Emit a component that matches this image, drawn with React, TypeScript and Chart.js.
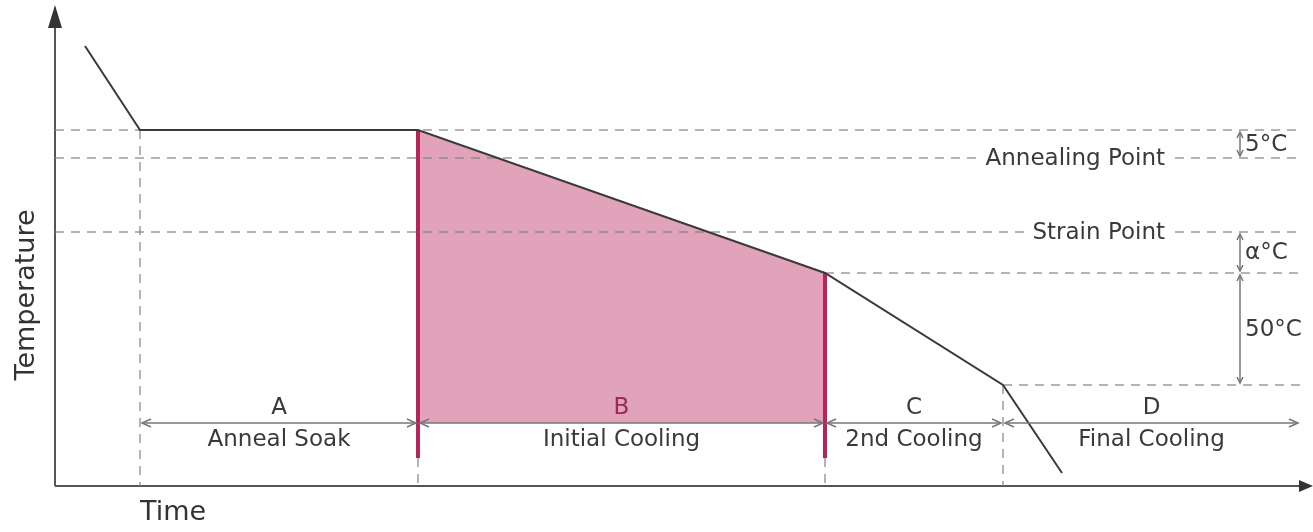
import React, { useEffect, useRef } from "react";
import { Chart, registerables } from "chart.js";

Chart.register(...registerables);

// ---- data (arbitrary time / temperature units) ----
const curveTime = [3.0, 8.5, 36.3, 77.0, 94.8, 100.7];
const curveTemp = [44.0, 35.6, 35.6, 21.3, 10.1, 1.3];

const stageBreaks = [8.5, 36.3, 77.0, 94.8, 124.5];
const stageLetters = ["A", "B", "C", "D"];
const stageNames = ["Anneal Soak", "Initial Cooling", "2nd Cooling", "Final Cooling"];

const levelTemps = [35.6, 32.8, 25.4, 21.3, 10.1];
const levelStarts = [0, 0, 0, 77.0, 94.8];
const levelEnd = 124.5;
const levelNames = ["", "Annealing Point", "Strain Point", "", ""];
const levelLabelEnd = 111.0;

const gapFrom = [35.6, 25.4, 21.3];
const gapTo = [32.8, 21.3, 10.1];
const gapLabels = ["5°C", "α°C", "50°C"];
const gapTime = 118.5;

const dimTemp = 6.3;
const markerBottom = 2.8;
const markerTimes = [36.3, 77.0];
const markerTops = [35.6, 21.3];
const guideTimes = [8.5, 94.8];
const guideTops = [35.6, 10.1];

const FONT = "'DejaVu Sans', 'Open Sans', sans-serif";
const TEXT = "#3a3a3a";
const DASH = "rgba(130,130,130,0.6)";
const PINK = "#b8235a";

function chevron(ctx: CanvasRenderingContext2D, x: number, y: number, dx: number, dy: number, len = 9, half = 4) {
  const px = -dy, py = dx;
  ctx.beginPath();
  ctx.moveTo(x - dx * len + px * half, y - dy * len + py * half);
  ctx.lineTo(x, y);
  ctx.lineTo(x - dx * len - px * half, y - dy * len - py * half);
  ctx.stroke();
}

const annotate = {
  id: "annotate",
  beforeDatasetsDraw(chart: any) {
    const { ctx, chartArea: a } = chart;
    ctx.save();
    ctx.strokeStyle = "#555";
    ctx.lineWidth = 2;
    ctx.beginPath();
    ctx.moveTo(a.left, a.bottom);
    ctx.lineTo(a.left, a.top + 18);
    ctx.stroke();
    ctx.fillStyle = "#333";
    ctx.beginPath();
    ctx.moveTo(a.left, a.top);
    ctx.lineTo(a.left - 7, a.top + 23);
    ctx.lineTo(a.left + 7, a.top + 23);
    ctx.closePath();
    ctx.fill();
    ctx.beginPath();
    ctx.moveTo(a.left, a.bottom);
    ctx.lineTo(a.right - 10, a.bottom);
    ctx.stroke();
    ctx.beginPath();
    ctx.moveTo(a.right, a.bottom);
    ctx.lineTo(a.right - 14, a.bottom - 6);
    ctx.lineTo(a.right - 14, a.bottom + 6);
    ctx.closePath();
    ctx.fill();
    ctx.restore();
  },
  afterDatasetsDraw(chart: any) {
    const { ctx } = chart;
    const xs = chart.scales.x;
    const ys = chart.scales.y;
    ctx.save();
    ctx.font = `23px ${FONT}`;
    ctx.textBaseline = "middle";

    levelNames.forEach((name, i) => {
      if (!name) return;
      const xr = xs.getPixelForValue(levelLabelEnd);
      const y = ys.getPixelForValue(levelTemps[i]);
      const w = ctx.measureText(name).width;
      ctx.fillStyle = "#fff";
      ctx.fillRect(xr - w - 6, y - 13, w + 14, 26);
      ctx.fillStyle = TEXT;
      ctx.textAlign = "right";
      ctx.fillText(name, xr, y + 1);
    });

    ctx.strokeStyle = "#777";
    ctx.lineWidth = 1.5;
    const yd = ys.getPixelForValue(dimTemp);
    for (let i = 0; i < stageLetters.length; i++) {
      const x0 = xs.getPixelForValue(stageBreaks[i]) + 2;
      const x1 = xs.getPixelForValue(stageBreaks[i + 1]) - 2;
      ctx.beginPath();
      ctx.moveTo(x0, yd);
      ctx.lineTo(x1, yd);
      ctx.stroke();
      chevron(ctx, x0, yd, -1, 0);
      chevron(ctx, x1, yd, 1, 0);
      const xc = (x0 + x1) / 2;
      ctx.textAlign = "center";
      ctx.fillStyle = i === 1 ? "#9c2a55" : TEXT;
      ctx.fillText(stageLetters[i], xc, yd - 15);
      ctx.fillStyle = TEXT;
      ctx.fillText(stageNames[i], xc, yd + 17);
    }

    const xg = xs.getPixelForValue(gapTime);
    for (let i = 0; i < gapLabels.length; i++) {
      const y0 = ys.getPixelForValue(gapFrom[i]) + 2;
      const y1 = ys.getPixelForValue(gapTo[i]) - 2;
      ctx.beginPath();
      ctx.moveTo(xg, y0);
      ctx.lineTo(xg, y1);
      ctx.stroke();
      chevron(ctx, xg, y0, 0, -1, 6, 3);
      chevron(ctx, xg, y1, 0, 1, 6, 3);
      ctx.textAlign = "left";
      ctx.fillStyle = TEXT;
      ctx.fillText(gapLabels[i], xg + 5, (y0 + y1) / 2 + 1);
    }

    ctx.font = `27px ${FONT}`;
    ctx.fillStyle = "#333";
    ctx.textAlign = "left";
    ctx.fillText("Time", 140, 513);
    ctx.save();
    ctx.translate(27, 295);
    ctx.rotate(-Math.PI / 2);
    ctx.textAlign = "center";
    ctx.fillText("Temperature", 0, 0);
    ctx.restore();
    ctx.restore();
  },
};

export default function App() {
  const ref = useRef<HTMLCanvasElement>(null);
  useEffect(() => {
    if (!ref.current) return;
    const line = (pts: { x: number; y: number }[], extra: any) => ({
      data: pts,
      pointRadius: 0,
      tension: 0,
      fill: false,
      ...extra,
    });
    const datasets: any[] = [];
    datasets.push(
      line(curveTime.map((t, i) => ({ x: t, y: curveTemp[i] })), {
        borderColor: "#3a3a3a",
        borderWidth: 2,
        order: 0,
      })
    );
    markerTimes.forEach((t, i) =>
      datasets.push(
        line([{ x: t, y: markerTops[i] }, { x: t, y: markerBottom }], {
          borderColor: PINK,
          borderWidth: 4,
          order: 1,
        })
      )
    );
    levelTemps.forEach((v, i) =>
      datasets.push(
        line([{ x: levelStarts[i], y: v }, { x: levelEnd, y: v }], {
          borderColor: DASH,
          borderWidth: 2,
          borderDash: [9, 7],
          order: 2,
        })
      )
    );
    [...guideTimes, ...markerTimes].forEach((t, i) =>
      datasets.push(
        line([{ x: t, y: i < 2 ? guideTops[i] : markerBottom }, { x: t, y: 0 }], {
          borderColor: DASH,
          borderWidth: 2,
          borderDash: [9, 7],
          order: 2,
        })
      )
    );
    datasets.push(
      line(
        [
          { x: markerTimes[0], y: markerTops[0] },
          { x: markerTimes[1], y: markerTops[1] },
        ],
        {
          borderWidth: 0,
          borderColor: "rgba(0,0,0,0)",
          backgroundColor: "rgba(212,128,159,0.72)",
          fill: { value: dimTemp },
          order: 3,
        }
      )
    );

    const chart = new Chart(ref.current, {
      type: "line",
      data: { datasets },
      options: {
        responsive: false,
        animation: false,
        layout: { padding: { left: 55, top: 5, right: 0, bottom: 46 } },
        plugins: { legend: { display: false }, tooltip: { enabled: false } },
        scales: {
          x: { type: "linear", min: 0, max: 125.8, display: false },
          y: { type: "linear", min: 0, max: 48.1, display: false },
        },
      },
      plugins: [annotate],
    });
    return () => chart.destroy();
  }, []);
  return (
    <div style={{ position: "fixed", left: 0, top: 0, width: 1313, height: 532, background: "#fff" }}>
      <canvas ref={ref} width={1313} height={532} />
    </div>
  );
}
